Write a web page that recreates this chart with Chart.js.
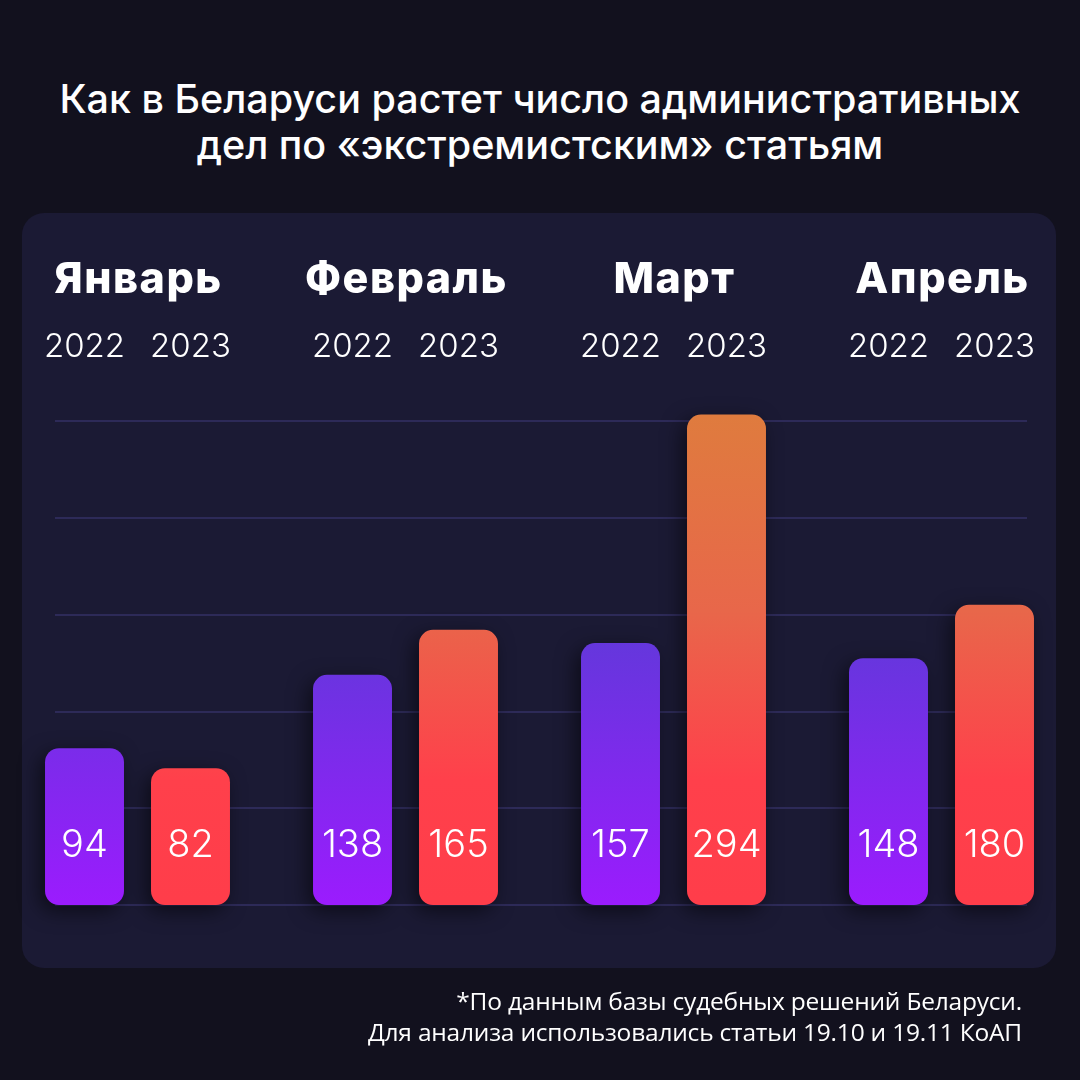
<!DOCTYPE html>
<html lang="ru">
<head>
<meta charset="utf-8">
<script src="https://cdn.jsdelivr.net/npm/chart.js@4/dist/chart.umd.min.js"></script>
<style>
  html, body { margin: 0; padding: 0; }
  body { width: 1080px; height: 1080px; background: #12111e; position: relative; overflow: hidden; font-family: Inter, "Open Sans", sans-serif; }
  #title { position: absolute; left: 0; top: 76px; width: 1080px; text-align: center; color: #ffffff; font-size: 39.5px; font-weight: 500; line-height: 46px; }
  #panel { position: absolute; left: 22px; top: 213px; width: 1034px; height: 755px; border-radius: 22px; background: #1b1a34; }
  #chartWrap { position: absolute; left: 0; top: 0; width: 1080px; height: 1080px; }
  #note { position: absolute; right: 58px; top: 985px; text-align: right; color: #ffffff; font-family: "Open Sans", sans-serif; font-size: 24.5px; font-weight: 500; line-height: 31px; letter-spacing: -0.2px; }
</style>
</head>
<body>
<div id="title">Как в Беларуси растет число административных<br>дел по «экстремистским» статьям</div>
<div id="panel"></div>
<div id="chartWrap"><canvas id="c" width="1080" height="1080"></canvas></div>
<div id="note">*По данным базы судебных решений Беларуси.<br>Для анализа использовались статьи 19.10 и 19.11 КоАП</div>
<script>
// ---- data ----
const months = ["Январь", "Февраль", "Март", "Апрель"];
const seriesLabels = ["2022", "2023"];
const values2022 = [94, 138, 157, 148];
const values2023 = [82, 165, 294, 180];
const Y_MAX = 300;
const GRID_STEP = 58;

// ---- styles ----
function purpleGrad(ctx) {
  const g = ctx.createLinearGradient(0, 640, 0, 900);
  g.addColorStop(0, "#6437dc");
  g.addColorStop(1, "#9a1cfd");
  return g;
}
function orangeGrad(ctx) {
  const g = ctx.createLinearGradient(0, 417, 0, 900);
  g.addColorStop(0, "#df7b3e");
  g.addColorStop(0.4, "#e8674a");
  g.addColorStop(0.75, "#ff404b");
  g.addColorStop(1, "#ff3d4a");
  return g;
}

const gridPlugin = {
  id: "customGrid",
  beforeDatasetsDraw(chart) {
    const ctx = chart.ctx;
    const y = chart.scales.y;
    ctx.save();
    ctx.strokeStyle = "#2d2a58";
    ctx.lineWidth = 2;
    for (let v = 0; v <= Y_MAX; v += GRID_STEP) {
      const py = Math.round(y.getPixelForValue(v));
      ctx.beginPath();
      ctx.moveTo(55, py);
      ctx.lineTo(1027, py);
      ctx.stroke();
    }
    ctx.restore();
    // shadow for bars
    ctx.save();
    ctx.shadowColor = "rgba(0,0,0,0.55)";
    ctx.shadowBlur = 20;
    ctx.shadowOffsetX = -5;
    ctx.shadowOffsetY = 6;
  },
  afterDatasetsDraw(chart) {
    const ctx = chart.ctx;
    ctx.restore();
    const x = chart.scales.x;
    const y = chart.scales.y;
    ctx.save();
    ctx.fillStyle = "#ffffff";
    ctx.textAlign = "center";
    ctx.textBaseline = "middle";
    // month labels
    ctx.font = "800 43px Inter";
    ctx.letterSpacing = "1.5px";
    months.forEach((m, i) => {
      ctx.fillText(m, x.getPixelForValue(i) + 1, 280);
    });
    ctx.letterSpacing = "0px";
    // year labels + value labels
    chart.data.datasets.forEach((ds, di) => {
      const meta = chart.getDatasetMeta(di);
      meta.data.forEach((bar, i) => {
        ctx.font = "300 33px Inter";
        ctx.fillText(ds.label, bar.x, 347);
        ctx.font = "300 38px Inter";
        ctx.fillText(String(ds.data[i]), bar.x, y.getPixelForValue(0) - 59);
      });
    });
    ctx.restore();
  }
};

new Chart(document.getElementById("c"), {
  type: "bar",
  data: {
    labels: months,
    datasets: [
      { label: seriesLabels[0], data: values2022, backgroundColor: (c) => purpleGrad(c.chart.ctx) },
      { label: seriesLabels[1], data: values2023, backgroundColor: (c) => orangeGrad(c.chart.ctx) }
    ]
  },
  options: {
    responsive: false,
    devicePixelRatio: 1,
    animation: false,
    layout: { padding: { left: 3.5, right: 4.5, top: 404.6, bottom: 175 } },
    categoryPercentage: 0.791,
    barPercentage: 0.745,
    datasets: { bar: { borderRadius: 14, borderSkipped: false, clip: false } },
    plugins: { legend: { display: false }, tooltip: { enabled: false } },
    scales: {
      x: { display: false, offset: true, grid: { display: false } },
      y: { display: false, min: 0, max: Y_MAX, grid: { display: false } }
    }
  },
  plugins: [gridPlugin]
});
</script>
</body>
</html>
